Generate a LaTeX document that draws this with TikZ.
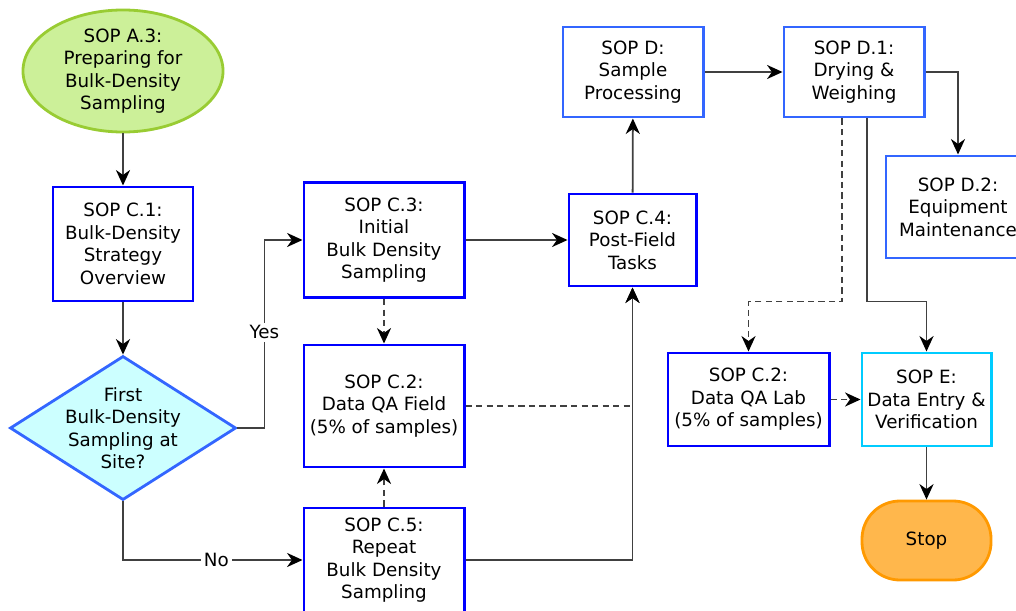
\documentclass[tikz,border=0pt]{standalone}
\usepackage{fontspec}
\setmainfont{DejaVu Sans}
\usetikzlibrary{shapes.geometric,arrows.meta}

\definecolor{boxblue}{RGB}{0,0,255}
\definecolor{softblue}{RGB}{51,102,255}
\definecolor{entrycyan}{RGB}{0,204,255}
\definecolor{startfill}{RGB}{204,240,153}
\definecolor{startline}{RGB}{153,204,51}
\definecolor{decfill}{RGB}{204,255,255}
\definecolor{stopfill}{RGB}{255,183,76}
\definecolor{stopline}{RGB}{255,153,0}
\definecolor{linkgray}{RGB}{64,64,64}

\begin{document}
\begin{tikzpicture}[
  x=0.025cm, y=-0.025cm,
  font=\fontsize{13}{16}\selectfont,
  sop/.style={rectangle, draw=boxblue, line width=2.1pt, fill=white, align=center, inner sep=1pt},
  sopd/.style={sop, draw=softblue},
  entry/.style={sop, draw=entrycyan},
  start/.style={ellipse, draw=startline, fill=startfill, line width=2pt, align=center, inner sep=0pt, minimum width=5cm, minimum height=3.05cm},
  decision/.style={diamond, draw=softblue, fill=decfill, line width=2pt, inner sep=0pt, minimum width=5.65cm, minimum height=3.6cm},
  stopnode/.style={rectangle, rounded corners=0.95cm, draw=stopline, fill=stopfill, line width=2pt, minimum width=3.225cm, minimum height=1.975cm},
  direct/.style={-{Stealth[length=11pt, width=10pt, inset=3.5pt, black]}, draw=linkgray, line width=1.3pt},
  dashdirect/.style={direct, dash pattern=on 4.5pt off 3pt},
  answer/.style={fill=white, inner sep=2pt}
]
\useasboundingbox (0,0) rectangle (1016,610);

% Field work
\node[start] (Prep) at (123,71) {SOP A.3:\\Preparing for\\Bulk-Density\\Sampling};
\node[sop, minimum width=3.5cm, minimum height=2.85cm] (Strategy) at (123,244) {SOP C.1:\\Bulk-Density\\Strategy\\Overview};
\node[decision, label={[align=center]center:First\\Bulk-Density\\Sampling at\\Site?}] (First) at (123,428) {};
\node[sop, minimum width=4cm, minimum height=2.875cm] (Initial) at (384,240) {SOP C.3:\\Initial\\Bulk Density\\Sampling};
\node[sop, minimum width=4cm, minimum height=3.05cm] (FieldQA) at (384,406) {SOP C.2:\\Data QA Field\\(5\% of samples)};
\node[sop, minimum width=4cm, minimum height=2.6cm] (Repeat) at (384,560) {SOP C.5:\\Repeat\\Bulk Density\\Sampling};
\node[sop, minimum width=3.175cm, minimum height=2.3cm] (PostField) at (632.5,240) {SOP C.4:\\Post-Field\\Tasks};

% Lab work
\node[sopd, minimum width=3.5cm, minimum height=2.25cm] (Processing) at (633,72) {SOP D:\\Sample\\Processing};
\node[sopd, minimum width=3.5cm, minimum height=2.25cm] (Drying) at (854,72) {SOP D.1:\\Drying \&\\Weighing};
\node[sopd, minimum width=3.6cm, minimum height=2.55cm] (Equipment) at (958,207) {SOP D.2:\\Equipment\\Maintenance};
\node[sop, minimum width=4.025cm, minimum height=2.325cm] (LabQA) at (748.5,399.5) {SOP C.2:\\Data QA Lab\\(5\% of samples)};
\node[entry, minimum width=3.225cm, minimum height=2.325cm] (Entry) at (926.5,399.5) {SOP E:\\Data Entry \&\\Verification};
\node[stopnode] (Stop) at (926.5,540.5) {Stop};

% Field connectors
\draw[direct] (Prep) -- (Strategy);
\draw[direct] (Strategy) -- (First);
\draw[direct] (First.east) -- ++(27,0) |- node[answer, pos=0.255] {Yes} (Initial.west);
\draw[direct] (First.south) |- node[answer, pos=0.76] {No} (Repeat.west);
\draw[direct] (Initial) -- (PostField);
\draw[dashdirect] (Initial) -- (FieldQA);
\draw[dashdirect] (Repeat) -- (FieldQA);
\draw[dashdirect] (FieldQA.east) -| (PostField.south);
\draw[direct] (Repeat.east) -| (PostField.south);
\draw[direct] (PostField) -- (Processing);

% Lab connectors
\draw[direct] (Processing) -- (Drying);
\draw[direct] (Drying.east) -| (Equipment.north);
\draw[dashdirect] ([xshift=-0.3cm]Drying.south) -- ++(0,183) -| (LabQA.north);
\draw[direct] ([xshift=0.325cm]Drying.south) -- ++(0,183) -| (Entry.north);
\draw[dashdirect] (LabQA) -- (Entry);
\draw[direct] (Entry) -- (Stop);

\end{tikzpicture}
\end{document}
